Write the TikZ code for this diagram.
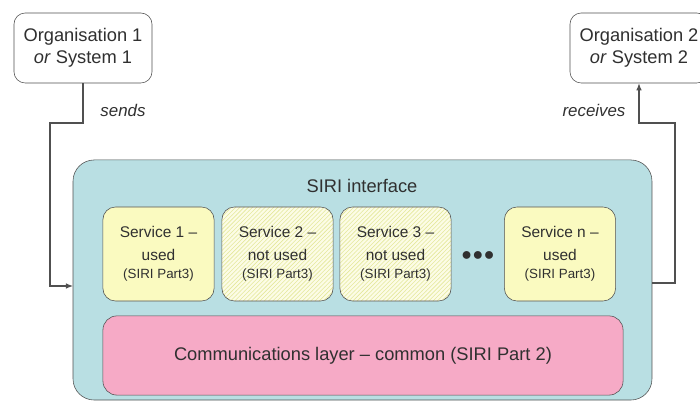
\documentclass[tikz,border=0pt]{standalone}
\usepackage{fontspec}
\setmainfont{Liberation Sans}
\usetikzlibrary{patterns,arrows.meta}

\definecolor{sirifill}{HTML}{B9DFE3}
\definecolor{usedfill}{HTML}{FAFAC0}
\definecolor{unusedfill}{HTML}{FCFCE6}
\definecolor{stripe}{HTML}{E4E89C}
\definecolor{commfill}{HTML}{F6AAC6}
\definecolor{edge}{HTML}{505050}
\definecolor{ink}{HTML}{303030}

\tikzset{
    every node/.style={text=ink},
    bigtext/.style={font=\fontsize{13}{16}\selectfont},
    orgbox/.style={draw=edge, rounded corners=8pt, fill=white, minimum width=3.45cm,
        minimum height=1.75cm, align=center, bigtext},
    service/.style={draw=edge, rounded corners=9pt, minimum width=2.78cm,
        minimum height=2.35cm, align=center, font=\fontsize{11}{16}\selectfont},
    used/.style={service, fill=usedfill},
    unused/.style={service, preaction={fill=unusedfill}, pattern=north east lines,
        pattern color=stripe},
    link/.style={draw=edge, line width=0.8pt, -{Latex[length=5pt,width=4pt]}}
}

\newcommand{\sirinote}{\\[-3pt]{\fontsize{9.5}{11}\selectfont (SIRI Part3)}}

\begin{document}
\begin{tikzpicture}[x=0.025cm, y=-0.025cm]
    \clip (0, 0) rectangle (700, 405);

    \node[orgbox] (org1) at (83, 48) {Organisation 1\\\textit{or} System 1};
    \node[orgbox] (org2) at (639, 48) {Organisation 2\\\textit{or} System 2};

    \node[draw=edge, fill=sirifill, rounded corners=15pt, minimum width=14.47cm,
        minimum height=6cm] (siri) at (362.5, 280) {};
    \node[bigtext] (siritext) at (362, 186) {SIRI interface};

    \node[used] (s1) at (158.5, 254) {Service 1 --\\used\sirinote};
    \node[unused] (s2) at (277.5, 254) {Service 2 --\\not used\sirinote};
    \node[unused] (s3) at (395.5, 254) {Service 3 --\\not used\sirinote};
    \node[font=\fontsize{15}{15}\selectfont] (dots) at (478, 256) {$\bullet\!\bullet\!\bullet$};
    \node[used] (sn) at (560, 254) {Service n --\\used\sirinote};

    \node[draw=edge, fill=commfill, rounded corners=10pt, minimum width=13cm,
        minimum height=1.98cm, bigtext] (comm) at (363, 355.5)
        {Communications layer -- common (SIRI Part 2)};

    % sends / receives
    \coordinate (sendbend) at (50, 123);
    \coordinate (sendin) at (73, 286);
    \coordinate (recvout) at (652, 283);
    \coordinate (recvbend) at (675, 123);

    \draw[link] (org1.south) |- (sendbend) |- (sendin);
    \draw[link] (recvout) -| (recvbend) -| (org2.south);

    \node[font=\fontsize{12}{14}\selectfont\itshape] (sends) at (123, 110) {sends};
    \node[font=\fontsize{12}{14}\selectfont\itshape] (receives) at (594, 110) {receives};
\end{tikzpicture}
\end{document}
